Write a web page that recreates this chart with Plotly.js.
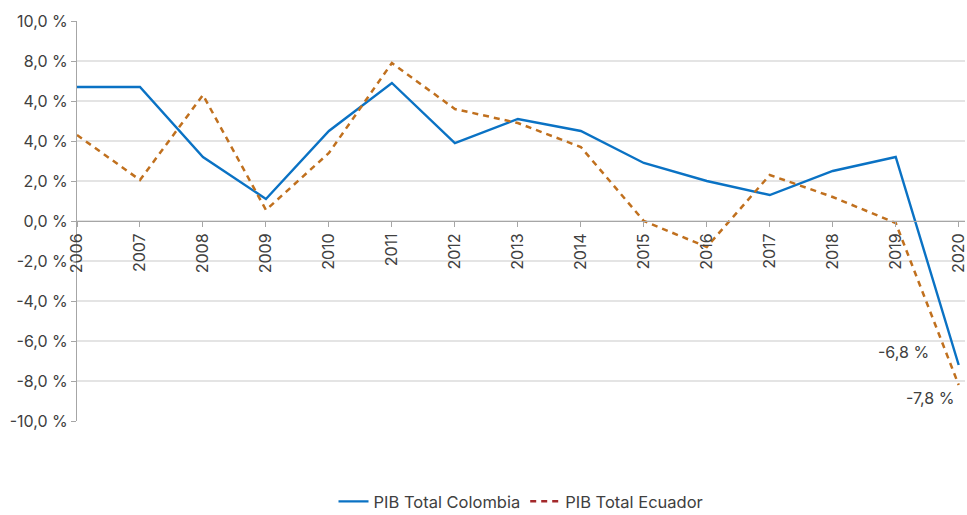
<!DOCTYPE html>
<html>
<head>
<meta charset="utf-8">
<script src="https://cdn.plot.ly/plotly-3.0.1.min.js"></script>
<style>html,body{margin:0;padding:0;background:#fff;}#chart{width:967px;height:515px;}</style>
</head>
<body>
<div id="chart"></div>
<script>
const years = [2006,2007,2008,2009,2010,2011,2012,2013,2014,2015,2016,2017,2018,2019,2020];
const colombia = [6.7,6.7,3.2,1.1,4.5,6.9,3.9,5.1,4.5,2.9,2.0,1.3,2.5,3.2,-7.2];
const ecuador = [4.3,2.05,6.3,0.55,3.4,7.9,5.6,4.9,3.7,0.0,-1.3,2.3,1.2,-0.1,-8.2];
const yTickVals = [10,8,6,4,2,0,-2,-4,-6,-8,-10];
const yTickText = ['10,0 %','8,0 %','4,0 %','4,0 %','2,0 %','0,0 %','-2,0 %','-4,0 %','-6,0 %','-8,0 %','-10,0 %'];
const endLabels = ['-6,8 %','-7,8 %'];
const endLabelPos = [[2019.13,-6.55],[2019.54,-8.85]];

const font = 'Inter, Roboto, "Noto Sans", sans-serif';
const traces = [
  {x: years, y: colombia, type: 'scatter', mode: 'lines', name: 'PIB Total Colombia',
   line: {color: '#0a72c4', width: 2.4}},
  {x: years, y: ecuador, type: 'scatter', mode: 'lines', name: 'PIB Total Ecuador', showlegend: false,
   line: {color: '#c0701e', width: 2.5, dash: '6px,5px'}},
  {x: [null], y: [null], type: 'scatter', mode: 'lines', name: 'PIB Total Ecuador',
   line: {color: '#a3292b', width: 2.5, dash: '6px,5px'}}
];
const layout = {
  width: 967, height: 515,
  margin: {l: 77, r: 2, t: 21, b: 94, autoexpand: false},
  paper_bgcolor: '#fff', plot_bgcolor: '#fff',
  font: {family: font, size: 15, color: '#404040'},
  showlegend: true,
  legend: {orientation: 'h', x: 0.5, xanchor: 'center', xref: 'paper',
           y: 0.026, yanchor: 'middle', yref: 'container',
           font: {family: font, size: 16.5, color: '#404040'}, itemwidth: 30},
  xaxis: {
    range: [2006, 2020.1], tickvals: years, ticktext: years.map(String),
    tickangle: -90, anchor: 'free', position: 0.5, ticklabeloverflow: 'allow',
    showgrid: false, zeroline: false, showline: true, linecolor: '#a6a6a6', linewidth: 1,
    ticks: 'outside', ticklen: 5, tickcolor: '#a6a6a6',
    tickfont: {family: font, size: 16, color: '#404040'}
  },
  yaxis: {
    range: [-10, 10], tickvals: yTickVals, ticktext: yTickText,
    showgrid: true, gridcolor: '#e4e4e4', gridwidth: 1.5, zeroline: false,
    showline: true, linecolor: '#a6a6a6', linewidth: 1,
    ticks: 'outside', ticklen: 5, tickcolor: '#a6a6a6',
    tickfont: {family: font, size: 16, color: '#404040'}
  },
  annotations: endLabels.map((t, i) => ({
    x: endLabelPos[i][0], y: endLabelPos[i][1], xref: 'x', yref: 'y', text: t,
    showarrow: false, font: {family: font, size: 16, color: '#404040'}
  }))
};
Plotly.newPlot('chart', traces, layout, {displayModeBar: false, staticPlot: true});
</script>
</body>
</html>
